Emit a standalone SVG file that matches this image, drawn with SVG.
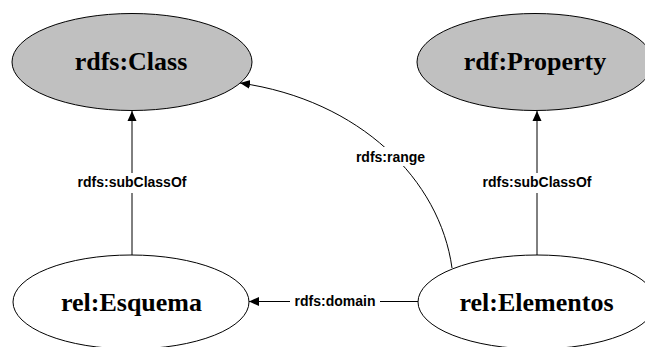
<svg xmlns="http://www.w3.org/2000/svg" width="645" height="347" viewBox="0 0 645 347">
  <style>
    .node ellipse { stroke: #000; stroke-width: 1; }
    .cls ellipse { fill: #c0c0c0; }
    .inst ellipse { fill: #fff; }
    .node text { font-family: "Liberation Serif", "Times New Roman", serif; font-weight: bold; font-size: 26px; text-anchor: middle; fill: #000; }
    .edge { fill: none; stroke: #000; stroke-width: 1; }
    .elabel { font-family: "Liberation Sans", Arial, sans-serif; font-weight: bold; font-size: 14px; text-anchor: middle; fill: #000; }
    .lbg { fill: #fff; }
  </style>
  <defs>
    <marker id="arrow" markerWidth="10" markerHeight="10" refX="10" refY="5" orient="auto" markerUnits="userSpaceOnUse">
      <path d="M0,0.5 L10,5 L0,9.5 Z" fill="#000"/>
    </marker>
  </defs>
  <rect width="645" height="347" fill="#fff"/>

  <g id="connectors">
    <!-- rel:Esquema subClassOf rdfs:Class -->
    <line class="edge" x1="132" y1="255" x2="132" y2="111" marker-end="url(#arrow)"/>
    <rect class="lbg" x="78" y="173" width="108" height="20"/>
    <text class="elabel" x="132" y="187">rdfs:subClassOf</text>

    <!-- rel:Elementos subClassOf rdf:Property -->
    <line class="edge" x1="537" y1="255" x2="537" y2="111" marker-end="url(#arrow)"/>
    <rect class="lbg" x="483" y="173" width="108" height="20"/>
    <text class="elabel" x="537" y="187">rdfs:subClassOf</text>

    <!-- rel:Elementos domain rel:Esquema -->
    <line class="edge" x1="418" y1="301.5" x2="249" y2="301.5" marker-end="url(#arrow)"/>
    <rect class="lbg" x="290" y="292" width="90" height="18"/>
    <text class="elabel" x="335" y="306">rdfs:domain</text>

    <!-- rel:Elementos range rdfs:Class -->
    <path class="edge" d="M452,268 C440,180 360,100 240,83" marker-end="url(#arrow)"/>
    <rect class="lbg" x="355" y="147" width="72" height="19"/>
    <text class="elabel" x="390.5" y="162">rdfs:range</text>
  </g>

  <g id="rdfs-class" class="node cls">
    <ellipse cx="132" cy="62" rx="120" ry="48.5"/>
    <text x="131" y="70">rdfs:Class</text>
  </g>
  <g id="rdf-property" class="node cls">
    <ellipse cx="535" cy="62" rx="118" ry="48.5"/>
    <text x="535" y="70">rdf:Property</text>
  </g>
  <g id="rel-esquema" class="node inst">
    <ellipse cx="131" cy="302" rx="118" ry="47"/>
    <text x="131.5" y="311">rel:Esquema</text>
  </g>
  <g id="rel-elementos" class="node inst">
    <ellipse cx="537" cy="302" rx="119" ry="47"/>
    <text x="536.5" y="311">rel:Elementos</text>
  </g>
</svg>
